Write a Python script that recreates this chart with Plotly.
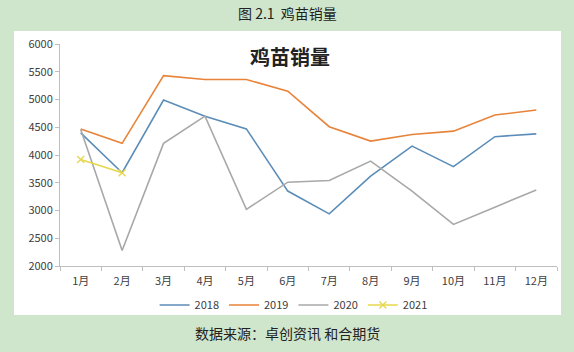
import plotly.graph_objects as go

months = ["1月", "2月", "3月", "4月", "5月", "6月", "7月", "8月", "9月", "10月", "11月", "12月"]
s2018 = [4400, 3680, 4990, 4700, 4470, 3350, 2940, 3620, 4160, 3790, 4330, 4380]
s2019 = [4470, 4210, 5430, 5360, 5360, 5150, 4510, 4250, 4370, 4430, 4720, 4810]
s2020 = [4460, 2280, 4210, 4700, 3020, 3510, 3540, 3890, 3350, 2750, 3060, 3370]
s2021 = [3920, 3680]

font = "Noto Sans CJK SC"
fig = go.Figure()
fig.add_trace(go.Scatter(x=months, y=s2018, name="2018", mode="lines",
                         line=dict(color="#5B8DB8", width=1.6)))
fig.add_trace(go.Scatter(x=months, y=s2019, name="2019", mode="lines",
                         line=dict(color="#E8833A", width=1.6)))
fig.add_trace(go.Scatter(x=months, y=s2020, name="2020", mode="lines",
                         line=dict(color="#A8A8A8", width=1.6)))
fig.add_trace(go.Scatter(x=months[:2], y=s2021, name="2021", mode="lines+markers",
                         line=dict(color="#E6D84A", width=1.6),
                         marker=dict(symbol="x-thin", size=7, line=dict(color="#E6D84A", width=1.3))))

W, H = 574, 352
l, r, t, b = 60, 17, 44, 86
pw, ph = W - l - r, H - t - b

def px(xp):
    return (xp - l) / pw

def py(yp):
    return (H - b - yp) / ph

fig.update_layout(
    width=W, height=H,
    margin=dict(l=l, r=r, t=t, b=b),
    paper_bgcolor="#CFE6CC",
    plot_bgcolor="white",
    font=dict(family=font, size=11, color="#404040"),
    showlegend=True,
    legend=dict(orientation="h", x=0.47, xanchor="center", y=py(305), yanchor="middle",
                font=dict(size=11, color="#404040"), bgcolor="rgba(0,0,0,0)",
                itemwidth=30, tracegroupgap=0),
    xaxis=dict(type="category", range=[-0.5, 11.5], showgrid=False, showline=True,
               linecolor="#BFBFBF",
               ticks="outside", tickson="boundaries", ticklen=4, tickcolor="#BFBFBF",
               ticklabelstandoff=5,
               tickfont=dict(size=11, color="#404040")),
    yaxis=dict(range=[2000, 6000], dtick=500, showgrid=False, showline=True,
               linecolor="#BFBFBF", ticks="outside", ticklen=4, tickcolor="#BFBFBF",
               tickfont=dict(size=11, color="#404040"), zeroline=False),
    shapes=[dict(type="rect", xref="paper", yref="paper", layer="below",
                 x0=px(14), x1=px(561), y0=py(315), y1=py(31),
                 fillcolor="white", line=dict(width=0))],
    annotations=[
        dict(text="图 2.1  鸡苗销量", xref="paper", yref="paper", x=px(287), y=py(13),
             xanchor="center", yanchor="middle", showarrow=False,
             font=dict(size=14, color="#222222", family=font)),
        dict(text="<b>鸡苗销量</b>", xref="paper", yref="paper", x=px(290), y=py(56),
             xanchor="center", yanchor="middle", showarrow=False,
             font=dict(size=20, color="#222222", family=font)),
        dict(text="数据来源：卓创资讯 和合期货", xref="paper", yref="paper", x=px(287), y=py(333),
             xanchor="center", yanchor="middle", showarrow=False,
             font=dict(size=14, color="#222222", family=font)),
    ],
)

fig.write_html("out.html")
